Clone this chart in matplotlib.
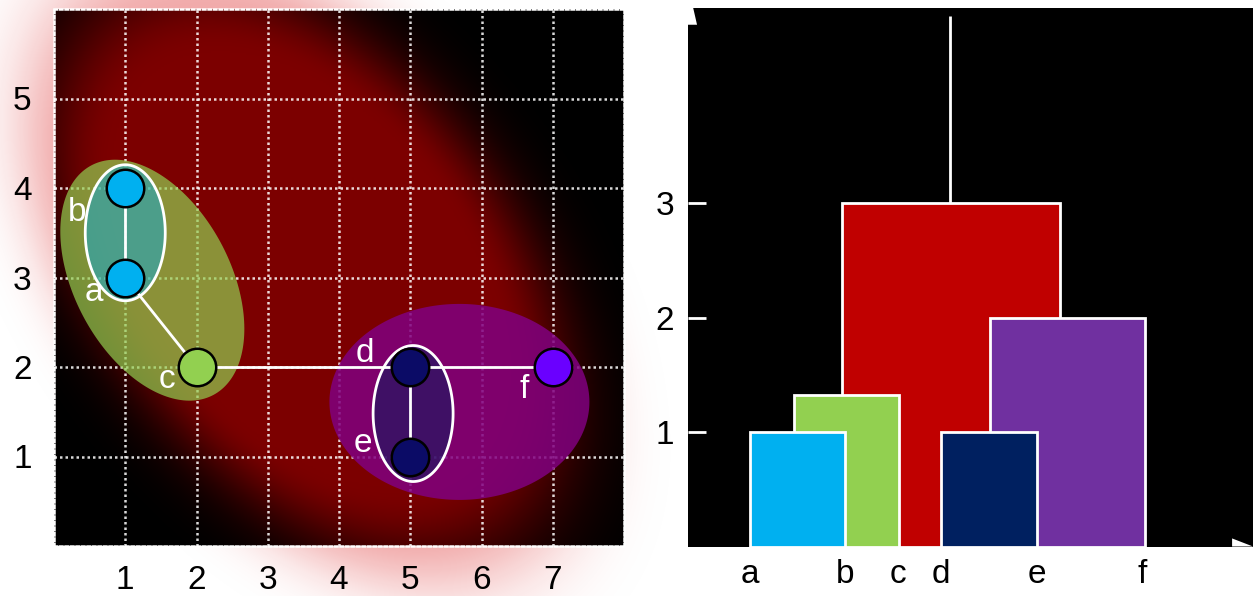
"""Clustering diagram: points with nested cluster ellipses, and the matching dendrogram"""

import numpy as np
import matplotlib
matplotlib.use("Agg")
import matplotlib.pyplot as plt
from matplotlib.patches import Polygon

plt.rcParams['font.family'] = ['Liberation Sans', 'DejaVu Sans']

# --- left panel: points ---
point_names = ['a', 'b', 'c', 'd', 'e', 'f']
point_x = [1, 1, 2, 5, 5, 7]
point_y = [3, 4, 2, 2, 1, 2]
point_colors = ['#00b0f0', '#00b0f0', '#92d050', '#0b0b66', '#0b0b66', '#6a00ff']
label_x = [0.56, 0.33, 1.59, 4.36, 4.34, 6.60]
label_y = [2.83, 3.73, 1.86, 2.15, 1.14, 1.75]
links = [('a', 'b'), ('a', 'c'), ('c', 'd'), ('d', 'f'), ('d', 'e')]

# cluster ellipses: centre (data), semi-axes (px), angle (deg)
ell_cx = [1.38, 5.69, 1.0, 5.04]
ell_cy = [2.97, 1.61, 3.5, 1.48]
ell_a = [130, 130, 40, 40]
ell_b = [78, 98, 68, 68]
ell_angle = [-62, 0, 0, 0]
ell_face = [('#92d050', 0.7), ('#800080', 0.85), ('#00b0f0', 0.45), ('#002060', 0.5)]
ell_edge = ['none', 'none', 'white', 'white']

# --- right panel: dendrogram ---
leaf_names = ['a', 'b', 'c', 'd', 'e', 'f']
leaf_x = [0.65, 1.645, 2.20, 2.65, 3.65, 4.76]
merge_left = [1.61, 1.11, 0.65, 3.16, 2.65]
merge_right = [3.90, 2.21, 1.645, 4.79, 3.65]
merge_height = [3.0, 1.32, 1.0, 2.0, 1.0]
merge_colors = ['#c00000', '#92d050', '#00b0f0', '#7030a0', '#002060']
root_x = 2.74
root_top = 4.63

W, H = 1256, 596
FS = 24
fig = plt.figure(figsize=(W / 100, H / 100), dpi=100)
fig.patch.set_facecolor('white')

left_rect = [54 / W, 50 / H, 570 / W, 537 / H]
sx = 570 / 8  # px per x unit
sy = 537 / 6  # px per y unit

# red glow: rotated soft ellipse
gx = np.linspace(-1.5, 9.5, 500)
gy = np.linspace(-1.0, 7.0, 400)
GX, GY = np.meshgrid(gx, gy)
dx = (GX - 3.55) * sx
dy = -(GY - 3.09) * sy  # screen direction (down positive)
ang = np.deg2rad(52)
u = dx * np.cos(ang) + dy * np.sin(ang)
v = dx * np.sin(ang) - dy * np.cos(ang)
r = np.sqrt((u / 330) ** 2 + (v / 203) ** 2)


def glow_rgba(r0, w, strength, red):
    a = np.where(r < r0, 1.0, np.exp(-np.log(2) * ((r - r0) / w) ** 2))
    img = np.zeros(GX.shape + (4,))
    img[..., 0] = red
    img[..., 1] = 0.05 if red > 0.6 else 0.0
    img[..., 2] = 0.05 if red > 0.6 else 0.0
    img[..., 3] = a * strength
    return img


ext = [gx[0], gx[-1], gy[0], gy[-1]]

# faint pink halo outside the plot (sits under the black axes)
bg = fig.add_axes(left_rect, zorder=-1)
bg.axis('off')
halo = bg.imshow(glow_rgba(0.9, 0.2, 0.35, 0.85), origin='lower', extent=ext,
                 aspect='auto', interpolation='bilinear')
halo.set_clip_on(False)
bg.set_xlim(0, 8)
bg.set_ylim(0, 6)

# ================= left panel =================
ax = fig.add_axes(left_rect)
ax.set_facecolor('black')
ax.imshow(glow_rgba(0.76, 0.24, 1.0, 0.49), origin='lower', extent=ext,
          aspect='auto', interpolation='bilinear', zorder=0)

# dotted white grid
for xv in range(1, 8):
    ax.axvline(xv, color='white', lw=1.8, ls=(0, (1, 1.2)), alpha=0.85, zorder=1)
for yv in range(1, 6):
    ax.axhline(yv, color='white', lw=1.8, ls=(0, (1, 1.2)), alpha=0.85, zorder=1)

# ellipses
t = np.linspace(0, 2 * np.pi, 200)
for cx, cy, a, b, an, (fc, fa), ec in zip(ell_cx, ell_cy, ell_a, ell_b, ell_angle, ell_face, ell_edge):
    th = np.deg2rad(an)
    px = a * np.cos(t) * np.cos(th) - b * np.sin(t) * np.sin(th)
    py = a * np.cos(t) * np.sin(th) + b * np.sin(t) * np.cos(th)
    pts = np.column_stack([cx + px / sx, cy + py / sy])
    face = matplotlib.colors.to_rgba(fc, fa)
    z = 2 if ec == 'none' else 3
    ax.add_patch(Polygon(pts, closed=True, facecolor=face, edgecolor=ec, lw=2, zorder=z))

# links
pos = {n: (x, y) for n, x, y in zip(point_names, point_x, point_y)}
for p, q in links:
    ax.plot([pos[p][0], pos[q][0]], [pos[p][1], pos[q][1]], color='white', lw=2, zorder=4)

# points
for x, y, c in zip(point_x, point_y, point_colors):
    ax.plot(x, y, 'o', ms=27, mfc=c, mec='black', mew=1.8, zorder=5)

for n, x, y in zip(point_names, label_x, label_y):
    ax.text(x, y, n, color='white', fontsize=FS, ha='center', va='center', zorder=6)

ax.set_xlim(0, 8)
ax.set_ylim(0, 6)
ax.set_xticks(range(1, 8))
ax.set_yticks(range(1, 6))
ax.tick_params(length=0, labelsize=FS)
ax.tick_params(axis='x', pad=14)
ax.tick_params(axis='y', pad=16)
for s in ax.spines.values():
    s.set_color('white')
    s.set_linestyle((0, (1, 1.2)))
    s.set_linewidth(1.8)
    s.set_zorder(7)

# ================= right panel =================
ax2 = fig.add_axes([688 / W, 49.5 / H, 565 / W, 539 / H])
ax2.set_facecolor('black')
ax2.bar(merge_left, merge_height, width=np.array(merge_right) - np.array(merge_left),
        align='edge', color=merge_colors, edgecolor='white', linewidth=2, zorder=2)
ax2.vlines(root_x, merge_height[0], root_top, color='white', lw=2, zorder=2)

ax2.set_xlim(0, 565 / 95.5)
ax2.set_ylim(0, 539 / 114.5)
ax2.set_yticks([1, 2, 3])
ax2.set_xticks(leaf_x, leaf_names)
ax2.tick_params(axis='y', direction='in', length=13, width=2, color='white',
                labelsize=FS, pad=10)
ax2.tick_params(axis='x', length=0, labelsize=FS, pad=9)
for s in ax2.spines.values():
    s.set_visible(False)

# small white arrow-head artefacts at the corners
ax2.add_patch(Polygon([(0, 1), (0.009, 1), (0.016, 0.968), (0, 0.968)], closed=True,
                      transform=ax2.transAxes, facecolor='white', edgecolor='none',
                      clip_on=False, zorder=5))
ax2.add_patch(Polygon([(0.963, 0.015), (1.0, 0.0), (0.963, 0.0)], closed=True,
                      transform=ax2.transAxes, facecolor='white', edgecolor='none',
                      clip_on=False, zorder=5))

fig.savefig('out.png', dpi=100)
